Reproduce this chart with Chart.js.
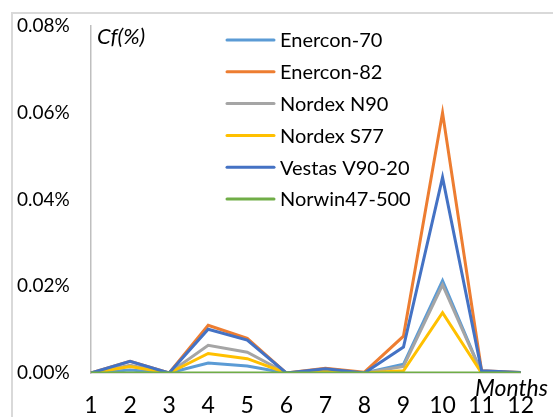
<!DOCTYPE html>
<html>
<head>
<meta charset="utf-8">
<script src="https://cdn.jsdelivr.net/npm/chart.js@4"></script>
<style>
  body { margin: 0; background: #fff; }
  #wrap { position: relative; width: 553px; height: 417px; overflow: hidden; }
  #frame { position: absolute; left: 11px; top: 12px; width: 600px; height: 500px; border: 2px solid #d9d9d9; }
  canvas { position: absolute; left: 0; top: 0; }
</style>
</head>
<body>
<div id="wrap">
  <div id="frame"></div>
  <canvas id="myChart" width="553" height="417"></canvas>
</div>
<script>
const months = ['1', '2', '3', '4', '5', '6', '7', '8', '9', '10', '11', '12'];
const yTicks = [0, 0.02, 0.04, 0.06, 0.08];

// Cf values in %
const enercon70 = [0, 0.0007, 0, 0.0023, 0.0016, 0, 0.0005, 0, 0.0020, 0.0213, 0, 0];
const enercon82 = [0, 0.0027, 0, 0.0110, 0.0080, 0, 0.0011, 0.0002, 0.0085, 0.0600, 0.0005, 0.0001];
const nordexN90 = [0, 0.0018, 0, 0.0064, 0.0048, 0, 0.0005, 0, 0.0015, 0.0203, 0, 0];
const nordexS77 = [0, 0.0015, 0, 0.0045, 0.0033, 0, 0.0004, 0, 0.0005, 0.0139, 0, 0];
const vestasV90 = [0, 0.0027, 0, 0.0101, 0.0076, 0, 0.0010, 0, 0.0060, 0.0451, 0.0005, 0.0001];
const norwin47 = [0, 0, 0, 0, 0, 0, 0, 0, 0, 0, 0, 0];

const seriesNames = ['Enercon-70', 'Enercon-82', 'Nordex N90', 'Nordex S77', 'Vestas V90-20', 'Norwin47-500'];
const seriesData = [enercon70, enercon82, nordexN90, nordexS77, vestasV90, norwin47];
const colors = ['#5b9bd5', '#ed7d31', '#a5a5a5', '#ffc000', '#4472c4', '#70ad47'];

const ctx = document.getElementById('myChart');

const data = {
  labels: months,
  datasets: seriesNames.map((name, i) => ({
    label: name,
    data: seriesData[i],
    borderColor: colors[i],
    backgroundColor: colors[i],
    borderWidth: 3,
    pointRadius: 0,
    tension: 0,
    order: seriesNames.length - i   // later series on top, like Excel
  }))
};

// legend inside the plot + axis titles
const extras = {
  id: 'extras',
  afterDraw(chart) {
    const c = chart.ctx;
    c.save();
    chart.data.datasets.forEach((ds, i) => {
      const y = 40 + i * 31.8;
      c.strokeStyle = ds.borderColor;
      c.lineWidth = 3;
      c.lineCap = 'round';
      c.beginPath();
      c.moveTo(227, y);
      c.lineTo(274, y);
      c.stroke();
      c.fillStyle = '#000';
      c.font = '20px Lato';
      c.textBaseline = 'middle';
      c.textAlign = 'left';
      c.fillText(ds.label, 280, y + 1);
    });
    c.fillStyle = '#000';
    c.textBaseline = 'middle';
    c.textAlign = 'left';
    c.font = 'italic 22px Lato';
    c.fillText('Cf(%)', 97, 37);
    c.textAlign = 'right';
    c.font = 'italic 23px Lato';
    c.fillText('Months', 548, 389);
    c.restore();
  }
};

const config = {
  type: 'line',
  data,
  options: {
    responsive: false,
    animation: false,
    layout: { padding: { left: 17, right: 13, top: 26, bottom: 0 } },
    plugins: {
      legend: { display: false },
      tooltip: { enabled: false }
    },
    scales: {
      x: {
        offset: false,
        afterFit: (scale) => { scale.height = 44; },
        grid: { display: false, drawTicks: false },
        border: { display: true, color: '#bfbfbf', width: 1.5 },
        ticks: { color: '#000', font: { family: 'Lato', size: 23 }, padding: 19, maxRotation: 0, autoSkip: false }
      },
      y: {
        min: 0,
        max: 0.08,
        afterBuildTicks: (scale) => { scale.ticks = yTicks.map(v => ({ value: v })); },
        afterFit: (scale) => { scale.width = 74; },
        grid: { display: false, drawTicks: false },
        border: { display: true, color: '#bfbfbf', width: 1.5 },
        ticks: {
          color: '#000',
          crossAlign: 'far',
          font: { family: 'Lato', size: 19 },
          callback: (v) => v.toFixed(2) + '%'
        }
      }
    }
  },
  plugins: [extras]
};

let myChart = new Chart(ctx, config);
</script>
</body>
</html>
